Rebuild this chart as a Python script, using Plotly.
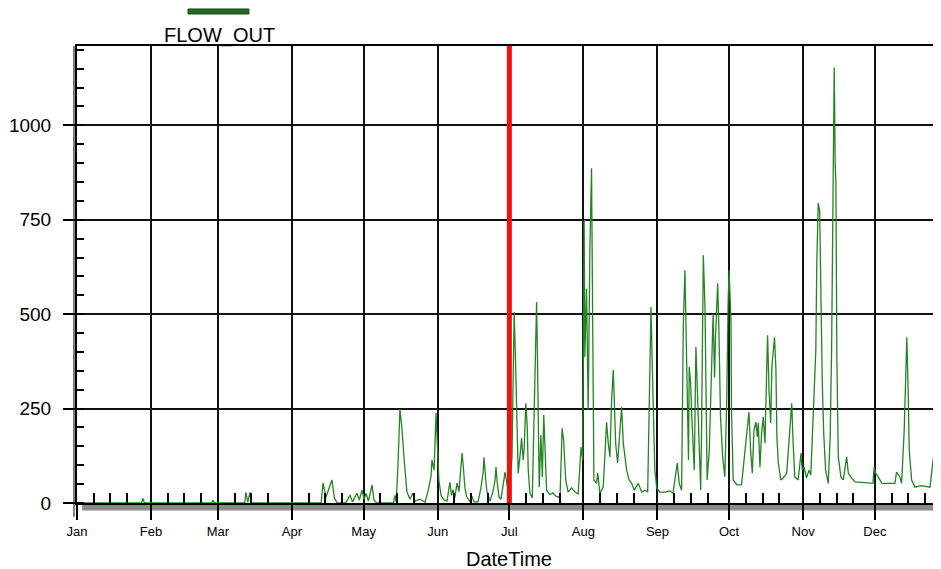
import pandas as pd
import plotly.graph_objects as go

# ---------------- data ----------------
year_start = "2003-01-01"
# fractional days since Jan 1
day_offsets = [
    0, 27.0, 27.6, 28.2, 56.4, 56.9, 57.4, 70.2, 70.7, 71.5, 72.4, 73.0,
    102.2, 103.0, 104.2, 105.2, 106.7, 107.8, 109.0,
    112.5, 114.3, 115.3, 117.2, 118.2, 119.3, 120.2, 121.0, 122.0, 123.5, 124.3, 125.5,
    132.5, 133.1, 133.6, 134.3, 135.2, 136.0, 136.9, 137.3, 138.1, 139.4, 140.6, 141.5, 143.6, 145.7,
    146.9, 148.2, 148.6, 149.5, 150.3, 150.9, 151.5, 152.4, 153.6, 154.9,
    156.1, 156.8, 157.4, 158.2, 159.1, 159.9, 160.8, 161.2, 161.8, 162.4, 163.2, 164.5, 165.3, 166.2,
    167.9, 169.1, 170.0, 170.4, 171.0, 171.6, 172.9, 174.1, 175.0, 175.4, 176.0, 176.7, 177.5, 178.3,
    179.2, 180.0, 180.8,
    182.1, 183.0, 183.5, 184.0, 184.5, 184.7, 185.7, 186.1, 186.8, 187.2, 187.9, 188.5, 188.9, 189.6,
    190.6, 191.0, 191.7, 192.4, 192.7, 193.1, 193.5, 194.2, 194.8, 195.4, 195.9, 196.6, 198.0, 199.2,
    200.5, 202.2, 203.1, 203.7, 204.6, 205.6, 207.1, 208.5, 209.8, 211.0, 211.7, 212.3, 212.6, 213.3,
    214.0, 214.7, 215.4, 215.7, 216.1, 216.4, 217.5, 218.0, 218.9, 220.3, 221.7, 222.4, 223.1, 223.8,
    224.5, 224.9, 225.5, 226.3, 227.3, 228.0, 228.7, 229.4, 230.1, 231.1, 232.2, 233.3, 235.0, 236.4,
    237.8, 238.9, 239.4, 240.0, 240.3, 240.8, 241.4, 241.9, 242.7, 244.0, 246.1, 248.2, 249.5, 250.7,
    251.3, 252.1, 253.1, 253.8, 254.5, 254.9, 255.5, 256.0, 256.3, 256.9, 257.3, 258.0, 258.4, 259.1,
    259.6, 260.4, 261.1, 261.5, 262.2, 262.9, 263.3, 263.8, 264.7, 265.7, 266.3, 266.9, 267.3, 268.2,
    268.7, 269.4, 270.3, 271.2, 272.0, 272.6, 273.0, 273.8, 274.0, 274.7, 276.3, 278.2, 278.9, 280.3,
    281.3, 282.0, 282.7, 283.4, 284.2, 284.8, 285.2, 285.9, 286.6, 287.3, 288.0, 288.7, 289.1, 289.7,
    290.4, 290.9, 291.5, 292.0, 292.6, 293.0, 293.6, 294.6, 295.6, 297.1, 298.2, 299.2, 299.8, 300.5,
    301.9, 303.1, 303.6, 304.4, 305.4, 306.4, 307.2, 308.2, 308.9, 309.3, 309.7, 310.3, 310.9, 311.4,
    312.0, 312.6, 313.4, 314.5, 315.3, 315.9, 316.4, 317.0, 317.4, 317.7, 318.1, 318.7, 319.8, 320.8,
    322.2, 322.9, 324.3, 325.7, 329.8, 333.2, 333.7, 334.3, 335.4, 337.0, 342.4, 343.1, 344.5, 345.2,
    346.3, 347.0, 347.4, 348.0, 348.4, 349.4, 350.8, 353.3, 357.1, 358.4, 359.1, 359.8, 360.8, 361.7,
    363.0,
]
flow_out = [
    0, 0, 12, 0, 0, 8, 0, 0, 28, 2, 28, 0,
    0, 53, 15, 35, 61, 12, 0,
    0, 21, 3, 26, 8, 34, 10, 25, 5, 48, 8, 0,
    0, 20, 3, 90, 248, 200, 120, 87, 30, 10, 26, 5, 10, 2,
    30, 70, 114, 87, 238, 150, 60, 20, 8, 5,
    55, 20, 35, 15, 53, 30, 90, 132, 90, 40, 15, 5, 18, 3,
    3, 40, 80, 121, 70, 30, 5, 30, 60, 95, 50, 15, 10, 50,
    82, 50, 30,
    120, 506, 397, 278, 185, 79, 140, 172, 114, 145, 264, 201, 87, 26,
    13, 140, 397, 532, 413, 180, 42, 180, 69, 233, 140, 34, 22, 27,
    18, 14, 198, 167, 61, 29, 40, 29, 24, 148, 114, 749, 386, 568,
    246, 669, 886, 466, 300, 61, 52, 79, 26, 42, 214, 158, 122, 272,
    352, 278, 158, 106, 200, 254, 158, 122, 87, 61, 52, 34, 52, 29,
    34, 29, 175, 405, 519, 370, 175, 87, 40, 29, 29, 32, 26, 82,
    106, 52, 34, 466, 616, 484, 238, 114, 360, 317, 238, 122, 87, 413,
    325, 175, 34, 212, 656, 519, 254, 61, 140, 397, 502, 333, 439, 582,
    466, 228, 122, 69, 272, 537, 616, 476, 246, 61, 48, 48, 95, 175,
    241, 140, 79, 193, 214, 175, 212, 95, 185, 228, 158, 344, 444, 299,
    212, 360, 405, 439, 352, 175, 106, 61, 66, 79, 175, 264, 158, 69,
    61, 132, 87, 95, 66, 87, 74, 238, 307, 405, 635, 794, 775, 492,
    317, 185, 87, 52, 175, 405, 847, 1153, 899, 847, 386, 122, 69, 61,
    122, 79, 66, 56, 54, 52, 95, 79, 69, 52, 52, 82, 69, 52,
    193, 360, 439, 280, 140, 61, 42, 46, 42, 114, 145, 106, 52, 35,
    30,
]

series_name = "FLOW_OUT"
x_title = "DateTime"
month_starts = ["2003-01-01", "2003-02-01", "2003-03-01", "2003-04-01", "2003-05-01", "2003-06-01",
                "2003-07-01", "2003-08-01", "2003-09-01", "2003-10-01", "2003-11-01", "2003-12-01"]
month_labels = ["Jan", "Feb", "Mar", "Apr", "May", "Jun", "Jul", "Aug", "Sep", "Oct", "Nov", "Dec"]
minor_days = [8, 15, 22]
y_tick_vals = [0, 250, 500, 750, 1000]
y_tick_text = ["0", "250", "500", "750", "1000"]
marker_date = "2003-07-01"
x_end = "2003-12-28 16:48"
y_max = 1210

# ---------------- figure ----------------
times = pd.Timestamp(year_start) + pd.to_timedelta(day_offsets, unit="D")
minor_vals = [pd.Timestamp(m) + pd.Timedelta(days=d - 1) for m in month_starts for d in minor_days]

FONT = "Liberation Sans, Arial, sans-serif"
GREEN = "#238423"

fig = go.Figure()
fig.add_trace(go.Scatter(x=times, y=flow_out, mode="lines", name=series_name,
                         line=dict(color=GREEN, width=1.3), hoverinfo="skip"))

# the page body has an 8px default margin, so the figure is sized to fit the window
fig.update_layout(
    width=933, height=561,
    margin=dict(l=69, r=0, t=38, b=66, autoexpand=False),
    paper_bgcolor="white", plot_bgcolor="white",
    showlegend=False,
    font=dict(family=FONT, color="black"),
    xaxis=dict(
        range=[year_start, x_end],
        automargin=False,
        tickmode="array", tickvals=month_starts, ticktext=month_labels,
        tickfont=dict(size=13, family=FONT, color="black"),
        ticks="outside", ticklen=15, tickwidth=1.5, tickcolor="black",
        showgrid=True, gridcolor="#111111", gridwidth=1.5,
        showline=True, linecolor="black", linewidth=2, mirror=True,
        zeroline=False,
        minor=dict(tickmode="array", tickvals=minor_vals, ticks="inside", ticklen=10,
                   tickwidth=1.5, tickcolor="black", showgrid=False),
    ),
    yaxis=dict(
        range=[0, y_max],
        automargin=False,
        tickmode="array", tickvals=y_tick_vals, ticktext=y_tick_text,
        tickfont=dict(size=19, family=FONT, color="black"),
        ticks="outside", ticklen=12, tickwidth=1.5, tickcolor="black",
        ticklabelstandoff=8,
        showgrid=True, gridcolor="#111111", gridwidth=1.5,
        showline=True, linecolor="black", linewidth=2,
        zeroline=False,
        minor=dict(tickmode="linear", tick0=0, dtick=50, ticks="inside", ticklen=7,
                   tickwidth=1.5, tickcolor="black", showgrid=False),
    ),
    shapes=[
        # grey band under the time axis
        dict(type="rect", xref="paper", yref="paper", x0=0.006, x1=1.0, y0=-0.0165, y1=-0.002,
             fillcolor="#8c8c8c", line=dict(width=0), layer="below"),
        # second (outer) line of the value axis
        dict(type="line", xref="paper", yref="paper", x0=-0.0035, x1=-0.0035, y0=-0.03, y1=1.0,
             line=dict(color="black", width=1)),
        # red marker line
        dict(type="line", xref="x", yref="paper", x0=marker_date, x1=marker_date, y0=0, y1=1,
             line=dict(color="#ee1111", width=5), layer="above"),
        # legend swatch
        dict(type="rect", xref="paper", yref="paper", x0=0.1285, x1=0.199, y0=1.070, y1=1.081,
             fillcolor="#236b23", line=dict(color="#1a4a1a", width=1)),
    ],
    annotations=[
        dict(text=series_name, xref="paper", yref="paper", x=0.1644, y=1.024,
             xanchor="center", yanchor="middle", showarrow=False,
             font=dict(size=20, family=FONT, color="black")),
        dict(text=x_title, xref="paper", yref="paper", x=0.5, y=-0.122,
             xanchor="center", yanchor="middle", showarrow=False,
             font=dict(size=20, family=FONT, color="black")),
    ],
)

fig.write_html("out.html")
